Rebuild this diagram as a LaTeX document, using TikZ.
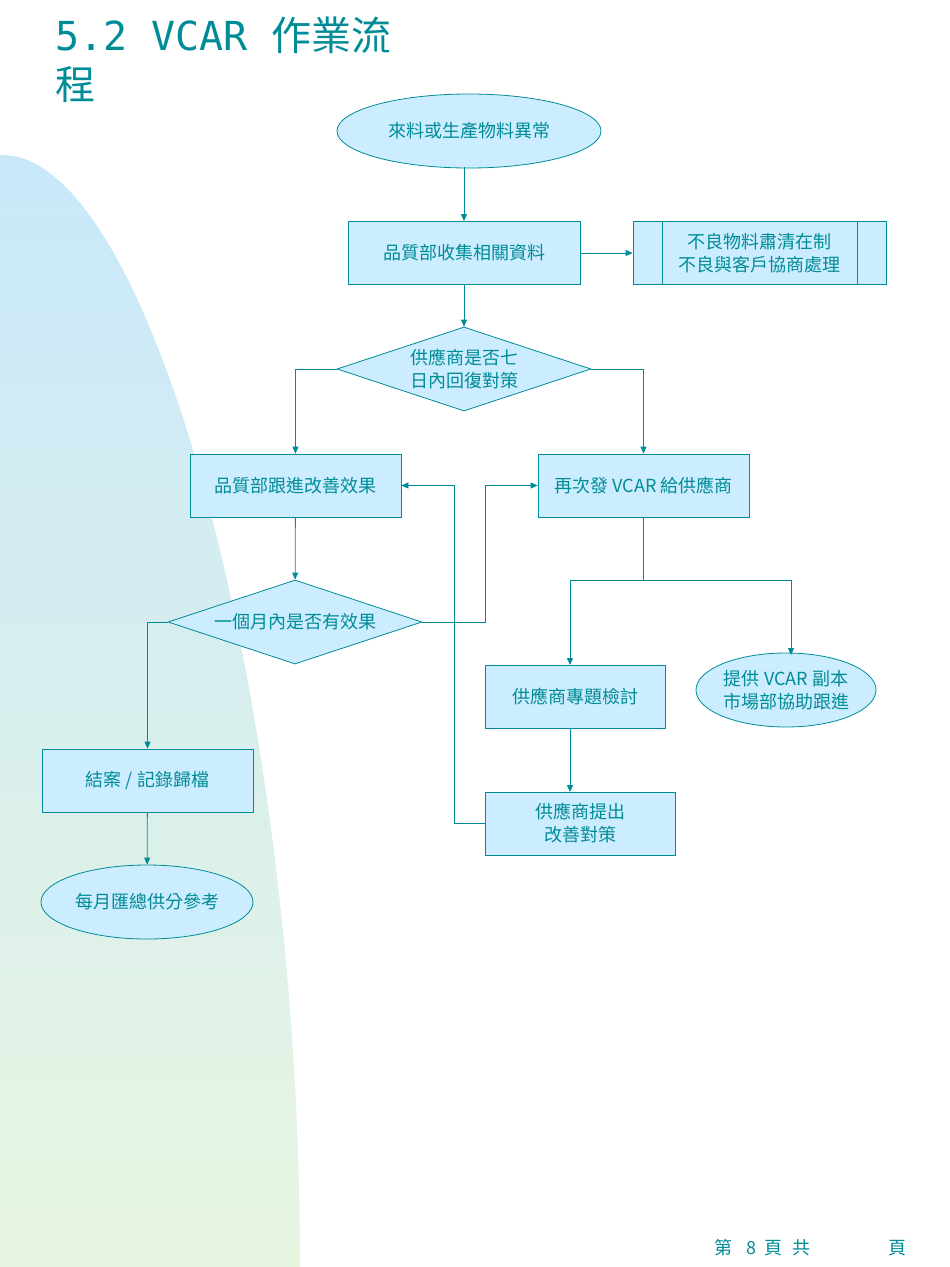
\documentclass[tikz,border=0pt]{standalone}
\usepackage{fontspec}
\setmainfont{Liberation Serif}
\newfontfamily\cjk{Noto Sans CJK TC}
\newfontfamily\mono{DejaVu Sans Mono}
\usetikzlibrary{shapes.geometric,arrows.meta}
\definecolor{tl}{RGB}{0,140,150}
\definecolor{fl}{RGB}{204,236,255}
\definecolor{bgA}{RGB}{200,232,250}
\definecolor{bgB}{RGB}{232,245,225}
\begin{document}
\begin{tikzpicture}[x=1pt,y=-1pt,
  base/.style={draw=tl,fill=fl,text=tl,font=\cjk\fontsize{18}{23}\selectfont,align=center,line width=0.8pt,inner sep=0pt},
  box/.style={base,rectangle,minimum width=#1,minimum height=63},
  ell/.style={base,ellipse,minimum height=74},
  dia/.style={base,diamond,aspect=3,minimum width=254,minimum height=84},
  ar/.style={draw=tl,line width=0.8pt,-{Triangle[length=7pt,width=6pt]}}]
\useasboundingbox (0,0) rectangle (950,1267);
\shade[top color=bgA,bottom color=bgB] (0,155) .. controls (150,150) and (300,700) .. (300,1267) -- (0,1267) -- cycle;
\node[anchor=west,text=tl,inner sep=0] (t1) at (55,35) {\fontsize{40}{44}\selectfont\mono 5.2 VCAR \cjk 作業流};
\node[anchor=west,text=tl,inner sep=0] (t2) at (55,85) {\fontsize{40}{44}\selectfont\cjk 程};
\node[ell,minimum width=264] (e1) at (469,131) {來料或生產物料異常};
\coordinate (e1b) at (464,167);
\node[box=232] (b1) at (464,253) {品質部收集相關資料};
\node[box=253] (b2) at (759.5,253) {不良物料肅清在制\\不良與客戶協商處理};
\draw[tl,line width=0.8pt] ([xshift=30]b2.north west) -- ([xshift=30]b2.south west)
  ([xshift=-29]b2.north east) -- ([xshift=-29]b2.south east);
\node[dia] (d1) at (464,369) {供應商是否七\\日內回復對策};
\node[box=211] (b3) at (295.5,485.5) {品質部跟進改善效果};
\node[box=211] (b4) at (643.5,485.5) {再次發 VCAR 給供應商};
\node[dia] (d2) at (295,622) {一個月內是否有效果};
\node[box=180] (b5) at (575,696.5) {供應商專題檢討};
\node[ell,minimum width=180] (e2) at (786,690) {提供 VCAR 副本\\市場部協助跟進};
\coordinate (e2t) at (791,655);
\node[box=211] (b6) at (147.5,780.5) {結案 / 記錄歸檔};
\node[box=190] (b7) at (580,823.5) {供應商提出\\改善對策};
\node[ell,minimum width=212] (e3) at (147,902) {每月匯總供分參考};
\node[text=tl,font=\cjk\fontsize{18}{20}\selectfont,anchor=east] (ft) at (910,1248) {第\hspace{14pt}8\hspace{8pt}頁\hspace{10pt}共\hspace{78pt}頁};
\draw[ar] (e1b) -- (b1);
\draw[ar] (b1) -- (b2);
\draw[ar] (b1) -- (d1);
\draw[ar] (d1.west) -| (b3.north);
\draw[ar] (d1.east) -| (b4.north);
\draw[ar] (b3) -- (d2);
\draw[ar] (d2.east) -- (485,622) |- (b4.west);
\draw[ar] (d2.west) -| (b6.north);
\coordinate (j) at (643.5,580);
\draw[tl,line width=0.8pt] (b4.south) -- (j);
\draw[ar] (j) -| (570,665);
\draw[ar] (j) -| (e2t);
\draw[ar] (570,728) -- (570,792);
\draw[ar] (b7.west) -- (454,823.5) |- (b3.east);
\draw[ar] (b6) -- (e3);
\end{tikzpicture}
\end{document}
